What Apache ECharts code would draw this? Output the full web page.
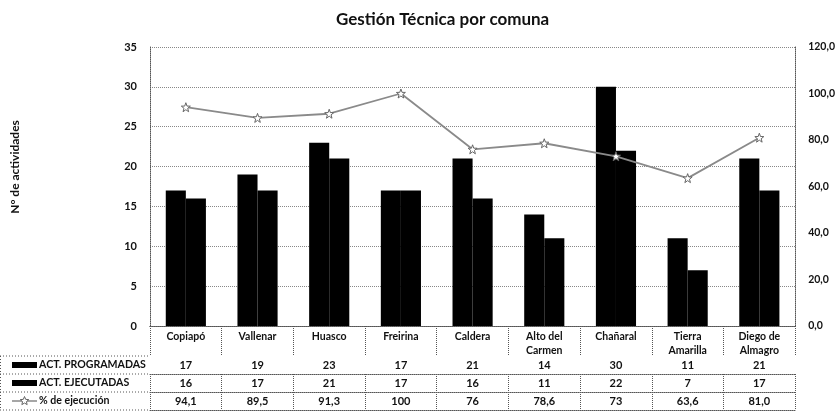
<!DOCTYPE html>
<html><head><meta charset="utf-8">
<script src="https://cdn.jsdelivr.net/npm/echarts@6/dist/echarts.min.js"></script>
<style>html,body{margin:0;padding:0;background:#fff}#c{width:838px;height:416px}</style>
</head><body><div id="c"></div>
<script>
var categories = ['Copiapó','Vallenar','Huasco','Freirina','Caldera','Alto del\nCarmen','Chañaral','Tierra\nAmarilla','Diego de\nAlmagro'];
var programadas = [17,19,23,17,21,14,30,11,21];
var ejecutadas = [16,17,21,17,16,11,22,7,17];
var pct = [94.1,89.5,91.3,100,76,78.6,73,63.6,81.0];
var pctLabels = ['94,1','89,5','91,3','100','76','78,6','73','63,6','81,0'];
var seriesNames = ['ACT. PROGRAMADAS','ACT. EJECUTADAS','% de ejecución'];
var yAxisTitle = 'N° de actividades';
var leftTicks = [0,5,10,15,20,25,30,35];
var rightTicks = [0,20,40,60,80,100,120];

var FONT = 'Lato';
var GRID_L = 150, GRID_R = 38, GRID_T = 47, GRID_B = 90;
var ZERO_Y = 416 - GRID_B;
var ROW0 = 30, ROWH = 18;
var dotted = {color:'#555', type:'dotted', width:1};

function rowAxis(offset, labels, showTick){
  return {
    type:'category', data:categories, gridIndex:0, position:'bottom', offset:offset,
    axisLine:{show:true, lineStyle:dotted},
    axisTick:{show:showTick, length:ROWH, lineStyle:dotted, interval:0},
    axisLabel:{show:!!labels, interval:0, margin:3.5, fontFamily:FONT, fontSize:11, fontWeight:'bold', color:'#111',
      formatter:function(v,i){return labels? String(labels[i]) : '';}},
    splitLine:{show:false}
  };
}

function starPoints(cx, cy, R){
  var pts = [];
  for (var i=0;i<10;i++){
    var a = -Math.PI/2 + i*Math.PI/5;
    var rr = (i%2===0)? R : R*0.45;
    pts.push([cx + rr*Math.cos(a), cy + rr*Math.sin(a)]);
  }
  return pts;
}

var chart = echarts.init(document.getElementById('c'));
var starPath = 'path://M0,-10 L2.4,-3.3 L9.5,-3.1 L3.9,1.3 L5.9,8.1 L0,4.1 L-5.9,8.1 L-3.9,1.3 L-9.5,-3.1 L-2.4,-3.3 Z';
var legendY = ZERO_Y + ROW0;
var graphics = [];
for (var r=0;r<4;r++){
  graphics.push({type:'line', shape:{x1:0, y1:legendY + r*ROWH, x2:GRID_L, y2:legendY + r*ROWH}, style:{stroke:'#555', lineDash:[1,2], lineWidth:1}});
}
graphics.push({type:'line', shape:{x1:0.5, y1:legendY, x2:0.5, y2:legendY+3*ROWH}, style:{stroke:'#555', lineDash:[1,2], lineWidth:1}});
for (var k=0;k<3;k++){
  var cy = legendY + k*ROWH + ROWH/2;
  if (k<2){
    graphics.push({type:'rect', shape:{x:12, y:cy-3, width:25, height:6}, style:{fill:'#000'}});
  } else {
    graphics.push({type:'line', shape:{x1:12, y1:cy, x2:37, y2:cy}, style:{stroke:'#888', lineWidth:1.5}});
    graphics.push({type:'polygon', shape:{points:starPoints(24.5, cy, 4.5)}, style:{fill:'#fff', stroke:'#666', lineWidth:1}});
  }
  graphics.push({type:'text', x:39, y:cy, style:{text:seriesNames[k], fontFamily:FONT, fontSize:10.6, fontWeight:'bold', fill:'#111', verticalAlign:'middle', textAlign:'left'}});
}
graphics.push({type:'text', x:15, y:167, rotation:Math.PI/2,
  style:{text:yAxisTitle, fontFamily:FONT, fontSize:12, fontWeight:'bold', fill:'#111', textAlign:'center', verticalAlign:'middle'}});

chart.setOption({
  animation:false,
  backgroundColor:'#fff',
  title:{text:'Gestión Técnica por comuna', left:331, top:6,
    textStyle:{fontFamily:FONT, fontSize:17, fontWeight:'bold', color:'#111'}},
  grid:{left:GRID_L, right:GRID_R, top:GRID_T, bottom:GRID_B, containLabel:false},
  xAxis:[
    {type:'category', data:categories, position:'bottom',
      axisLine:{show:true, lineStyle:dotted},
      axisTick:{show:true, length:ROW0, lineStyle:dotted, interval:0},
      axisLabel:{interval:0, margin:4, fontFamily:FONT, fontSize:10.5, fontWeight:'bold', color:'#111', lineHeight:14},
      splitLine:{show:false}},
    rowAxis(ROW0, programadas, true),
    rowAxis(ROW0+ROWH, ejecutadas, true),
    rowAxis(ROW0+2*ROWH, pctLabels, true),
    rowAxis(ROW0+3*ROWH, null, false)
  ],
  yAxis:[
    {type:'value', min:0, max:35, interval:5, position:'left',
      axisLine:{show:true, lineStyle:dotted}, axisTick:{show:false},
      axisLabel:{margin:13, fontFamily:FONT, fontSize:11, fontWeight:'bold', color:'#111',
        formatter:function(v){return leftTicks.indexOf(v)>=0? String(v):'';}},
      splitLine:{show:true, lineStyle:{color:'#888', type:'dotted', width:1}}},
    {type:'value', min:0, max:120, interval:20, position:'right',
      axisLine:{show:true, lineStyle:dotted}, axisTick:{show:false},
      axisLabel:{margin:13, fontFamily:FONT, fontSize:10.5, fontWeight:'bold', color:'#111',
        formatter:function(v){return rightTicks.indexOf(v)>=0? v.toFixed(1).replace('.',','):'';}},
      splitLine:{show:false}}
  ],
  series:[
    {name:seriesNames[0], type:'bar', data:programadas, barGap:'0%', barCategoryGap:'44%',
      itemStyle:{color:'#000'}},
    {name:seriesNames[1], type:'bar', data:ejecutadas, itemStyle:{color:'#000'}},
    {name:seriesNames[2], type:'line', yAxisIndex:1, data:pct, symbol:starPath, symbolSize:9,
      lineStyle:{color:'#8a8a8a', width:1.8}, itemStyle:{color:'#fff', borderColor:'#666', borderWidth:1}}
  ],
  graphic:graphics
});
</script></body></html>
